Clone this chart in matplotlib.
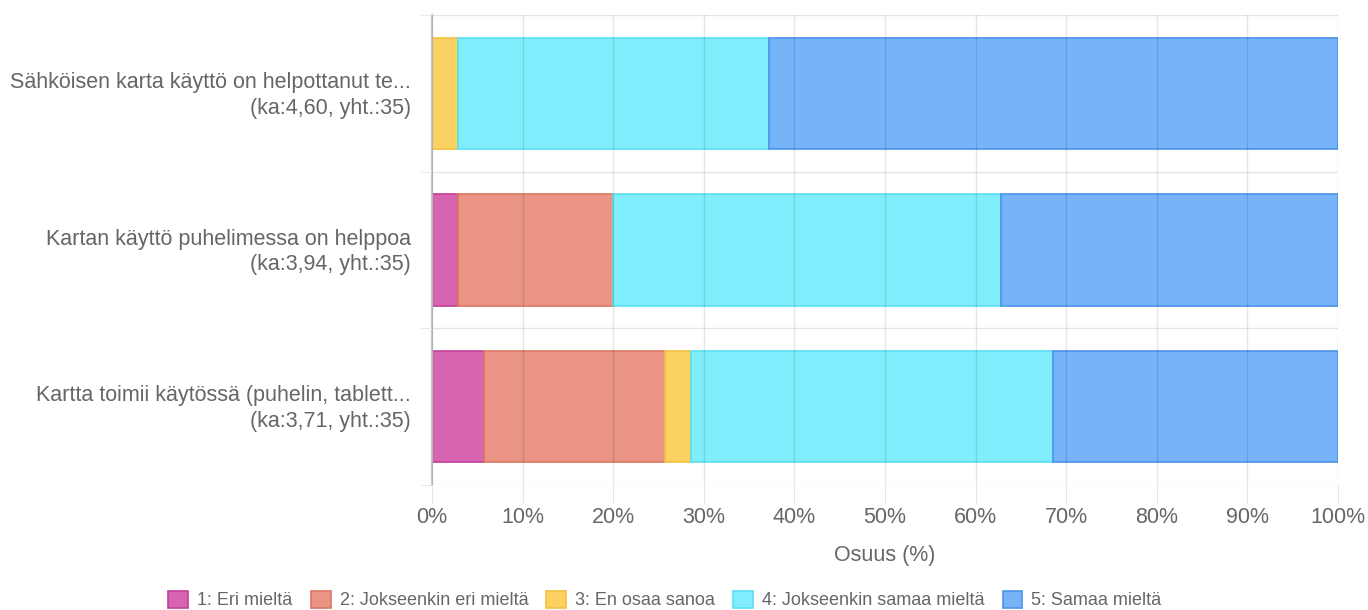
import matplotlib
matplotlib.use("Agg")
import matplotlib.pyplot as plt
from matplotlib.patches import Patch
from matplotlib.ticker import FixedLocator, FuncFormatter
from matplotlib.transforms import ScaledTranslation

plt.rcParams["font.family"] = ["Liberation Sans", "DejaVu Sans"]

# Survey statements (wrapped labels as shown on the axis)
categories = [
    "Sähköisen karta käyttö on helpottanut te...\n(ka:4,60, yht.:35)",
    "Kartan käyttö puhelimessa on helppoa\n(ka:3,94, yht.:35)",
    "Kartta toimii käytössä (puhelin, tablett...\n(ka:3,71, yht.:35)",
]

# Answer options of the Likert scale
series_names = [
    "1: Eri mieltä",
    "2: Jokseenkin eri mieltä",
    "3: En osaa sanoa",
    "4: Jokseenkin samaa mieltä",
    "5: Samaa mieltä",
]

# Number of respondents per answer option, one list per statement
counts_1 = [0, 1, 2]
counts_2 = [0, 6, 7]
counts_3 = [1, 0, 1]
counts_4 = [12, 15, 14]
counts_5 = [22, 13, 11]
totals = [35, 35, 35]

x_ticks = [0, 10, 20, 30, 40, 50, 60, 70, 80, 90, 100]

face_colors = ["#d664b0", "#ea9485", "#fbd262", "#7fedfb", "#76b3f9"]
edge_colors = ["#c23f98", "#dc7664", "#f3c140", "#5cdff3", "#4b93ea"]
text_color = "#666666"
tick_color = "#e4e4e4"

fig = plt.figure(figsize=(13.68, 6.10), dpi=100)
ax = fig.add_axes([432 / 1368, 125 / 610, 906 / 1368, 470 / 610])

series = [counts_1, counts_2, counts_3, counts_4, counts_5]
positions = list(range(len(categories)))
left = [0.0] * len(categories)
for name, vals, fc, ec in zip(series_names, series, face_colors, edge_colors):
    shares = [v / t * 100 for v, t in zip(vals, totals)]
    ax.barh(positions, shares, left=left, height=0.71, color=fc,
            edgecolor=ec, linewidth=1.2, zorder=2, label=name)
    left = [l + s for l, s in zip(left, shares)]

ax.set_xlim(0, 100)
ax.set_ylim(len(categories) - 0.5, -0.5)

# Vertical grid at percentage ticks, horizontal grid between categories
ax.xaxis.set_major_locator(FixedLocator(x_ticks))
ax.xaxis.set_major_formatter(FuncFormatter(lambda v, p: f"{v:.0f}%"))
ax.yaxis.set_major_locator(FixedLocator(positions))
ax.yaxis.set_minor_locator(FixedLocator([p + 0.5 for p in [-1] + positions]))
ax.set_yticklabels(categories)

ax.grid(True, axis="x", which="major", color="black", alpha=0.10, linewidth=1, zorder=3)
ax.grid(True, axis="y", which="minor", color="black", alpha=0.10, linewidth=1, zorder=3)
ax.set_axisbelow(False)

ax.tick_params(axis="x", which="major", length=13, color=tick_color,
               labelsize=15.5, labelcolor=text_color, pad=3)
ax.tick_params(axis="y", which="major", length=0, labelsize=15.5,
               labelcolor=text_color, pad=15)
ax.tick_params(axis="y", which="minor", length=8, color=tick_color)

shift_up = ScaledTranslation(0, 3 / 100, fig.dpi_scale_trans)
for lbl in ax.get_yticklabels():
    lbl.set_horizontalalignment("right")
    lbl.set_multialignment("right")
    lbl.set_linespacing(1.3)
    lbl.set_transform(lbl.get_transform() + shift_up)

for side in ["top", "right", "bottom"]:
    ax.spines[side].set_visible(False)
ax.spines["left"].set_color("#c8c8c8")
ax.spines["left"].set_linewidth(1.5)

ax.set_xlabel("Osuus (%)", fontsize=15.5, color=text_color, labelpad=12)

handles = [Patch(facecolor=fc, edgecolor=ec, linewidth=1.2)
           for fc, ec in zip(face_colors, edge_colors)]
fig.legend(handles, series_names, loc="center", bbox_to_anchor=(665 / 1368, 10 / 610),
           ncol=5, frameon=False, fontsize=13, labelcolor=text_color,
           handlelength=1.1, handleheight=1.1, handletextpad=0.5, columnspacing=1.0)

fig.savefig("out.png", dpi=100)
